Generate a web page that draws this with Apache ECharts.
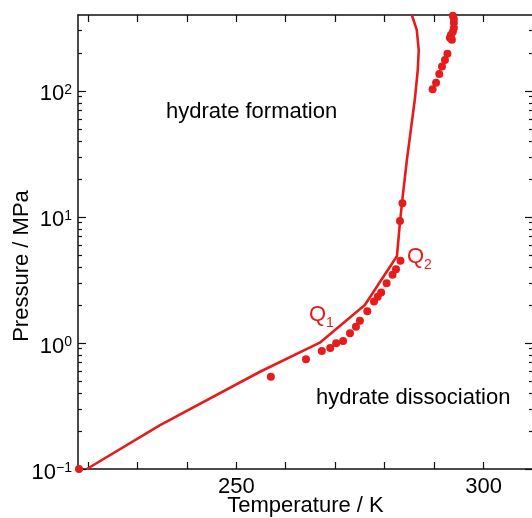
<!DOCTYPE html>
<html>
<head>
	<meta charset="utf-8">
	<title>Hydrate phase diagram</title>
	<script src="https://cdn.jsdelivr.net/npm/echarts@6/dist/echarts.min.js"></script>
	<style>
		html, body { margin: 0; padding: 0; background: #fff; }
		#chart { width: 532px; height: 518px; }
	</style>
</head>
<body>
	<div id="chart"></div>
	<script>
		// model curve (T / K, P / MPa)
		var curveT = [219.8, 234.6, 254.8, 266.9, 276.0, 282.5, 283.1, 283.7, 284.5, 285.3, 286.1, 286.7, 286.9, 286.5, 285.5];
		var curveP = [0.1, 0.223, 0.591, 1.005, 2.0, 4.9, 9.1, 15.0, 28.3, 49, 85, 147, 211, 305, 400];

		// experimental points
		var expT = [218.2, 257.0, 264.1, 267.3, 269.0, 270.2, 271.6, 273.0, 274.2, 275.0, 276.5, 277.85, 278.6, 279.3,
			280.4, 281.6, 282.3, 283.2, 283.1, 283.6, 289.7, 290.4, 291.05, 291.6, 292.2, 292.7,
			293.2, 293.4, 293.6, 293.8, 294.0, 294.0, 294.0, 293.8];
		var expP = [0.1, 0.54, 0.742, 0.864, 0.913, 0.995, 1.037, 1.194, 1.347, 1.503, 1.785, 2.13, 2.33, 2.51,
			2.98, 3.47, 3.85, 4.5, 9.29, 12.85, 103, 116, 136, 156, 176, 197,
			264, 278, 254, 294, 316, 347, 373, 394];

		var xTicks = [220, 230, 240, 250, 260, 270, 280, 290, 300];
		var xLabels = [250, 300];
		var yMajor = [0.1, 1, 10, 100];
		var yMinor = [];
		yMajor.forEach(function(d) {
			for (var k = 2; k <= 9; k++) {
				if (d * k < 400) yMinor.push(+(d * k).toPrecision(3));
			}
		});

		var red = '#e41c1c';
		var font = '"Liberation Sans", Arial, Helvetica, sans-serif';

		var chart = echarts.init(document.getElementById('chart'));

		function zip(a, b) {
			return a.map(function(v, i) { return [v, b[i]]; });
		}

		function supLabel(v) {
			var e = Math.round(Math.log10(v));
			return '{b|10}{s|' + (e < 0 ? '\u2212' + (-e) : e) + '}';
		}

		function xAxisCfg(pos) {
			return {
				type: 'value',
				position: pos,
				min: 218,
				max: 310,
				axisLine: { lineStyle: { color: '#111', width: 1.5 } },
				axisTick: { inside: true, length: 7, customValues: xTicks, lineStyle: { color: '#111', width: 1.2 } },
				axisLabel: { show: false },
				splitLine: { show: false }
			};
		}

		function yAxisCfg(pos, ticks, len, line) {
			return {
				type: 'log',
				position: pos,
				min: 0.1,
				max: 400,
				axisLine: { show: line, lineStyle: { color: '#111', width: 1.5 } },
				axisTick: { inside: true, length: len, customValues: ticks, lineStyle: { color: '#111', width: 1.2 } },
				axisLabel: { show: false },
				splitLine: { show: false },
				minorTick: { show: false }
			};
		}

		var xBottom = xAxisCfg('bottom');
		xBottom.axisLabel = {
			show: true,
			customValues: xLabels,
			fontSize: 22,
			fontFamily: font,
			color: '#000',
			margin: 7
		};
		xBottom.name = 'Temperature / K';
		xBottom.nameLocation = 'middle';
		xBottom.nameGap = 26;
		xBottom.nameMoveOverlap = false;
		xBottom.nameTextStyle = { fontSize: 22, fontFamily: font, color: '#000' };

		var yLeft = yAxisCfg('left', yMajor, 8, true);
		yLeft.axisLabel = {
			show: true,
			customValues: yMajor,
			margin: 6,
			padding: [7, 0, 0, 0],
			formatter: supLabel,
			rich: {
				b: { fontSize: 22, fontFamily: font, color: '#000', lineHeight: 23 },
				s: { fontSize: 14, fontFamily: font, color: '#000', lineHeight: 14, verticalAlign: 'top' }
			}
		};
		yLeft.name = 'Pressure / MPa';
		yLeft.nameLocation = 'middle';
		yLeft.nameGap = 45;
		yLeft.nameMoveOverlap = false;
		yLeft.nameTextStyle = { fontSize: 22, fontFamily: font, color: '#000', padding: [0, 48, 0, 0] };

		var option = {
			animation: false,
			grid: { left: 78, top: 15, width: 455, height: 454, containLabel: false, outerBoundsMode: 'none' },
			xAxis: [xBottom, xAxisCfg('top')],
			yAxis: [
				yLeft,
				yAxisCfg('left', yMinor, 4, false),
				yAxisCfg('right', yMajor, 8, true),
				yAxisCfg('right', yMinor, 4, false)
			],
			graphic: [
				{ type: 'text', x: 166, y: 112, style: { text: 'hydrate formation', font: '22px ' + font, fill: '#000', verticalAlign: 'middle' } },
				{ type: 'text', x: 316, y: 398, style: { text: 'hydrate dissociation', font: '22px ' + font, fill: '#000', verticalAlign: 'middle' } },
				{ type: 'text', x: 309, y: 315, style: {
					text: '{q|Q}{s|1}', verticalAlign: 'middle',
					rich: {
						q: { fontSize: 22, fontFamily: font, fill: red, lineHeight: 30 },
						s: { fontSize: 14, fontFamily: font, fill: red, lineHeight: 14, verticalAlign: 'bottom' }
					}
				} },
				{ type: 'text', x: 407, y: 257, style: {
					text: '{q|Q}{s|2}', verticalAlign: 'middle',
					rich: {
						q: { fontSize: 22, fontFamily: font, fill: red, lineHeight: 30 },
						s: { fontSize: 14, fontFamily: font, fill: red, lineHeight: 14, verticalAlign: 'bottom' }
					}
				} }
			],
			series: [
				{
					type: 'line',
					data: zip(curveT, curveP),
					symbol: 'none',
					lineStyle: { color: red, width: 2.6 },
					z: 2
				},
				{
					type: 'scatter',
					data: zip(expT, expP),
					symbol: 'circle',
					symbolSize: 8,
					itemStyle: { color: red, opacity: 1 },
					clip: false,
					z: 3
				}
			]
		};

		chart.setOption(option);
	</script>
</body>
</html>
